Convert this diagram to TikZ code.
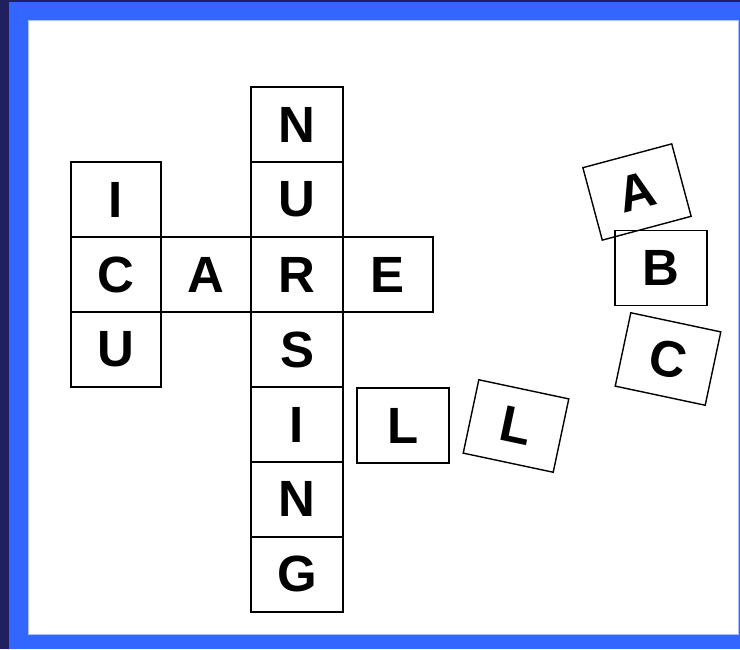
\documentclass[tikz,border=0pt]{standalone}
\usepackage{fontspec}
\setmainfont{Liberation Sans}
\usetikzlibrary{positioning}
\definecolor{frameblue}{HTML}{3366FF}
\definecolor{framenavy}{HTML}{20205F}
\definecolor{edgeblue}{HTML}{A8C0FF}

\begin{document}
\begin{tikzpicture}[x=0.02cm, y=-0.02cm, node distance=0pt, tile/.style={draw, line width=0.8pt, outer sep=0pt, inner sep=0pt, minimum width=1.84cm, minimum height=1.5cm, font=\fontsize{29}{31}\selectfont\bfseries}, narrow/.style={minimum width=1.8cm}]
% frame
\fill[framenavy] (0,0) rectangle (740,649);
\fill[frameblue] (9,2) rectangle (740,649);
\fill[white, draw=edgeblue, line width=0.5pt] (28,20) rectangle (738,634);
\useasboundingbox (0,0) rectangle (740,649);

% NURSING down
\node[tile] (r) at (297,274.5) {R};
\node[tile, above=of r] (u1) {U};
\node[tile, above=of u1] (n1) {N};
\node[tile, below=of r] (s) {S};
\node[tile, below=of s] (i1) {I};
\node[tile, below=of i1] (n2) {N};
\node[tile, below=of n2] (g) {G};

% CARE across
\node[tile, narrow, left=of r] (a1) {A};
\node[tile, narrow, left=of a1] (c1) {C};
\node[tile, narrow, right=of r] (e) {E};

% ICU down
\node[tile, narrow, above=of c1] (i2) {I};
\node[tile, narrow, below=of c1] (u2) {U};

% loose tiles
\node[tile] (l1) at (403,425.5) {L};
\node[tile, rotate=-12] (l2) at (516,426) {L};
\node[tile, rotate=15] (a2) at (637,192) {A};
\node[tile] (b) at (661,268) {B};
\node[tile, rotate=-12] (c2) at (668,359) {C};
\end{tikzpicture}
\end{document}
